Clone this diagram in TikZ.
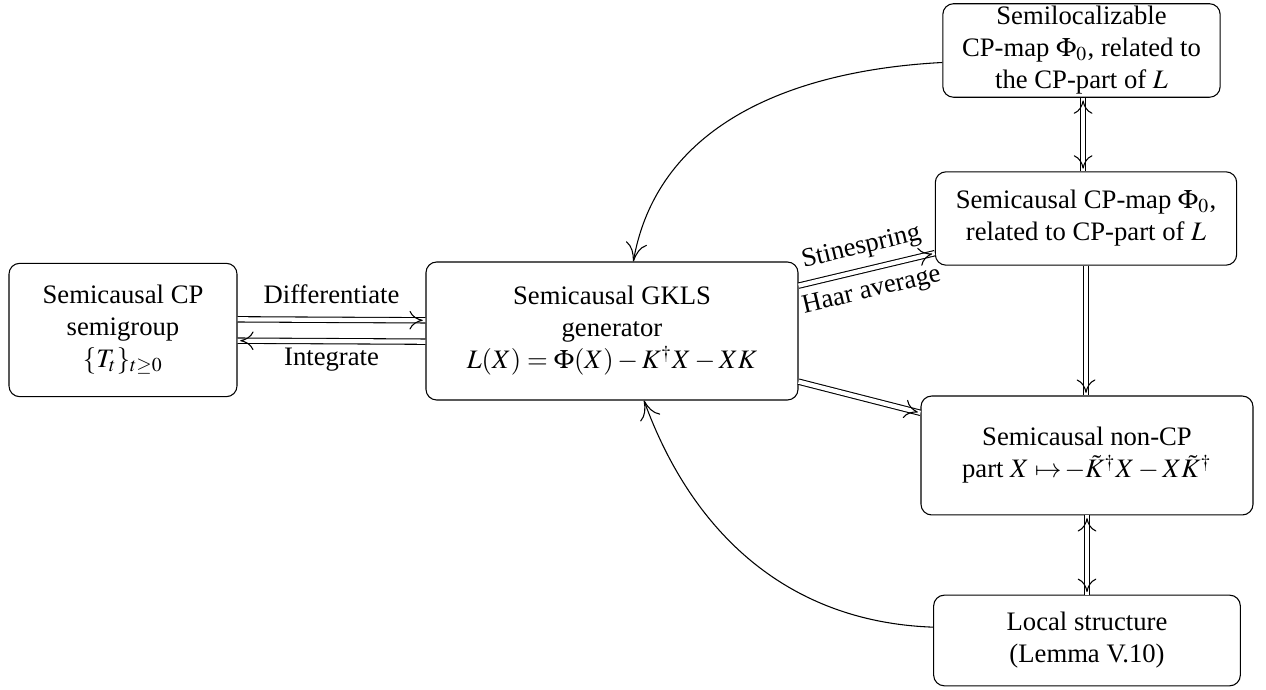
\documentclass[tikz,border=0pt]{standalone}
\usepackage{mathptmx}
\usepackage[no-math]{fontspec}
\setmainfont{Liberation Serif}
\usetikzlibrary{arrows.meta, decorations.markings}

\begin{document}
\begin{tikzpicture}[x=0.375pt, y=-0.375pt,
	box/.style={draw, rounded corners, align=center, inner sep=1pt},
	dbl/.style={double, double distance=1.6pt},
	imp/.style={dbl, postaction={decorate, decoration={markings,
		mark=at position 1 with {\pgfsetinnerlinewidth{0pt}\arrow{To[length=7pt, width=9pt]}}}}},
	biimp/.style={dbl, postaction={decorate, decoration={markings,
		mark=at position 0 with {\pgfsetinnerlinewidth{0pt}\arrowreversed{To[length=7pt, width=9pt]}},
		mark=at position 1 with {\pgfsetinnerlinewidth{0pt}\arrow{To[length=7pt, width=9pt]}}}}},
	back/.style={-{To[length=7pt, width=8pt]}}]
	\useasboundingbox (0, 0) rectangle (1266, 690);
	% Boxes.
	\node[box, minimum width=85.5pt, minimum height=50pt] (semigrp) at (123, 330)
		{Semicausal CP\\semigroup\\$\{T_t\}_{t\geq 0}$};
	\node[box, minimum width=139.5pt, minimum height=51.75pt] (gkls) at (612, 331)
		{Semicausal GKLS\\generator\\$L(X)=\Phi(X)-K^\dagger X-XK$};
	\node[box, minimum width=104pt, minimum height=35pt] (semiloc) at (1081.5, 50.5)
		{Semilocalizable\\CP-map $\Phi_0$, related to\\the CP-part of $L$};
	\node[box, minimum width=113pt, minimum height=35pt] (cpmap) at (1086, 218.5)
		{Semicausal CP-map $\Phi_0$,\\related to CP-part of $L$};
	\node[box, minimum width=124.5pt, minimum height=44.6pt] (noncp) at (1087, 455.5)
		{Semicausal non-CP\\part $X\mapsto\!-\tilde{K}^\dagger X-X\tilde{K}^\dagger$};
	\node[box, minimum width=115pt, minimum height=34pt] (local) at (1087, 640.5)
		{Local structure\\(Lemma V.10)};
	% Semigroup and generator.
	\draw[imp] ([yshift=4pt]semigrp.east) -- ([yshift=4pt]gkls.west)
		node[midway, above=2.5pt] {Differentiate};
	\draw[imp] ([yshift=-4pt]gkls.west) -- ([yshift=-4pt]semigrp.east)
		node[midway, below=-1pt] {Integrate};
	% Generator to its parts.
	\draw[imp] ([yshift=17pt]gkls.east) -- ([yshift=-13pt]cpmap.west)
		node[midway, sloped, above=0.5pt] {Stinespring}
		node[midway, sloped, below=0.5pt] {Haar average};
	\draw[imp] ([yshift=-19pt]gkls.east) -- ([yshift=16pt]noncp.west);
	% Right column.
	\draw[biimp] ([xshift=0.6pt]semiloc.south) -- ([xshift=0.6pt]semiloc.south |- cpmap.north);
	\draw[imp] (cpmap.south) -- (cpmap.south |- noncp.north);
	\draw[biimp] (noncp.south) -- (noncp.south |- local.north);
	% Curved arrows back to the generator.
	\draw[back] ([yshift=-4.5pt]semiloc.west) to[out=183, in=80] ([xshift=8pt]gkls.north);
	\draw[back] ([yshift=5pt]local.west) to[out=178, in=-70] ([xshift=12pt]gkls.south);
\end{tikzpicture}
\end{document}
